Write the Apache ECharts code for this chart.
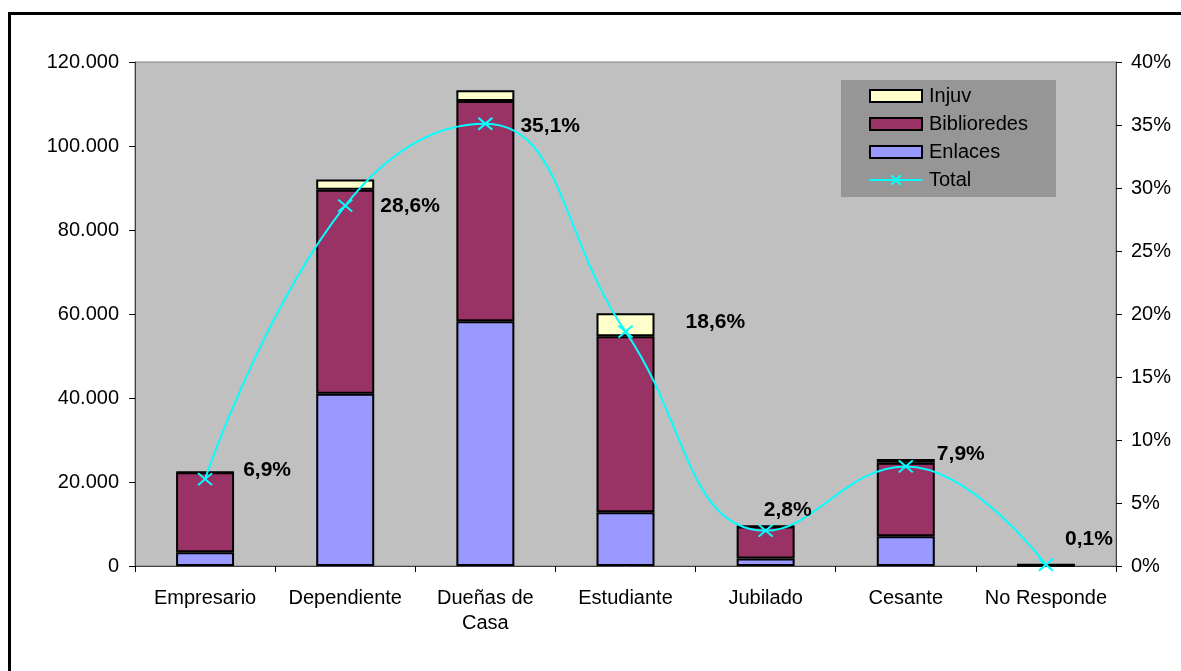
<!DOCTYPE html>
<html>
<head>
<meta charset="utf-8">
<script src="https://cdn.jsdelivr.net/npm/echarts@6/dist/echarts.min.js"></script>
<style>
html,body{margin:0;padding:0;background:#fff;overflow:hidden;}
#chart{width:1181px;height:671px;}
</style>
</head>
<body>
<div id="chart"></div>
<script>
const categories = ['Empresario', 'Dependiente', 'Dueñas de\nCasa', 'Estudiante', 'Jubilado', 'Cesante', 'No Responde'];
const enlaces     = [3300, 41000, 58300, 12800, 1800, 7100, 100];
const biblioredes = [19000, 48600, 52400, 41900, 7600, 17500, 200];
const injuv       = [100, 2400, 2600, 5500, 100, 900, 50];
const totalPct    = [6.9, 28.6, 35.1, 18.6, 2.8, 7.9, 0.1];
const leftTicks   = [0, 20000, 120000];
const rightTicks  = [0, 5, 40];

// label placement (pixels relative to each point) — styling only
const labelOffsets = [[30, -9], [27, 1], [27, 2], [52, -9], [-10, -21], [23, -12], [11, -26]];

const FONT = 'Liberation Sans, Arial, sans-serif';
const chart = echarts.init(document.getElementById('chart'), null, {renderer: 'canvas'});

function fmtThousands(v) {
  return String(v).replace(/\B(?=(\d{3})+(?!\d))/g, '.');
}

const barBorder = {borderColor: '#000', borderWidth: 2};

const option = {
  animation: false,
  backgroundColor: '#fff',
  textStyle: {fontFamily: FONT},
  graphic: [{
    type: 'rect',
    shape: {x: 9.5, y: 13.5, width: 3000, height: 3000},
    style: {fill: 'none', stroke: '#000', lineWidth: 3},
    silent: true, z: 100
  }],
  grid: {
    left: 135, right: 65, top: 62, bottom: 105,
    show: true, backgroundColor: '#C0C0C0', borderColor: '#808080', borderWidth: 1
  },
  legend: {
    orient: 'vertical',
    left: 841, top: 80,
    width: 215,
    backgroundColor: '#969696',
    padding: [6, 28, 7, 28],
    itemWidth: 52, itemHeight: 12, itemGap: 8,
    textStyle: {fontFamily: FONT, fontSize: 20, color: '#000', lineHeight: 20, padding: [0, 0, 0, 2]},
    data: [
      {name: 'Injuv', icon: 'rect'},
      {name: 'Biblioredes', icon: 'rect'},
      {name: 'Enlaces', icon: 'rect'},
      {name: 'Total'}
    ]
  },
  xAxis: {
    type: 'category',
    data: categories,
    boundaryGap: true,
    axisLine: {lineStyle: {color: '#404040', width: 1}},
    axisTick: {show: true, alignWithLabel: false, length: 6, lineStyle: {color: '#000'}},
    axisLabel: {fontFamily: FONT, fontSize: 20, color: '#000', margin: 20, lineHeight: 25, interval: 0}
  },
  yAxis: [{
    type: 'value',
    min: leftTicks[0], max: leftTicks[2], interval: leftTicks[1],
    position: 'left',
    axisLine: {show: true, lineStyle: {color: '#404040', width: 1}},
    axisTick: {show: true, length: 6, lineStyle: {color: '#000'}},
    splitLine: {show: false},
    axisLabel: {fontFamily: FONT, fontSize: 20, color: '#000', margin: 16, formatter: v => fmtThousands(v)}
  }, {
    type: 'value',
    min: rightTicks[0], max: rightTicks[2], interval: rightTicks[1],
    position: 'right',
    axisLine: {show: true, lineStyle: {color: '#404040', width: 1}},
    axisTick: {show: true, length: 6, lineStyle: {color: '#000'}},
    splitLine: {show: false},
    axisLabel: {fontFamily: FONT, fontSize: 20, color: '#000', margin: 15, formatter: '{value}%'}
  }],
  series: [{
    name: 'Enlaces', type: 'bar', stack: 'a', barWidth: 58,
    itemStyle: Object.assign({color: '#9999FF'}, barBorder),
    data: enlaces
  }, {
    name: 'Biblioredes', type: 'bar', stack: 'a', barWidth: 58,
    itemStyle: Object.assign({color: '#993366'}, barBorder),
    data: biblioredes
  }, {
    name: 'Injuv', type: 'bar', stack: 'a', barWidth: 58,
    itemStyle: Object.assign({color: '#FFFFCC'}, barBorder),
    data: injuv
  }, {
    name: 'Total', type: 'line', yAxisIndex: 1,
    smooth: 0.45,
    z: 10,
    symbol: 'path://M0,0L10,10M10,0L0,10',
    symbolSize: [14, 12],
    lineStyle: {color: '#00FFFF', width: 2},
    itemStyle: {color: '#00FFFF', borderColor: '#00FFFF', borderWidth: 2},
    data: totalPct.map((v, i) => ({
      value: v,
      label: {offset: labelOffsets[i]}
    })),
    label: {
      show: true, position: 'right', distance: 0,
      fontFamily: FONT, fontSize: 21, fontWeight: 'bold', color: '#000',
      formatter: p => String(p.value).replace('.', ',') + '%'
    }
  }]
};
chart.setOption(option);
</script>
</body>
</html>
